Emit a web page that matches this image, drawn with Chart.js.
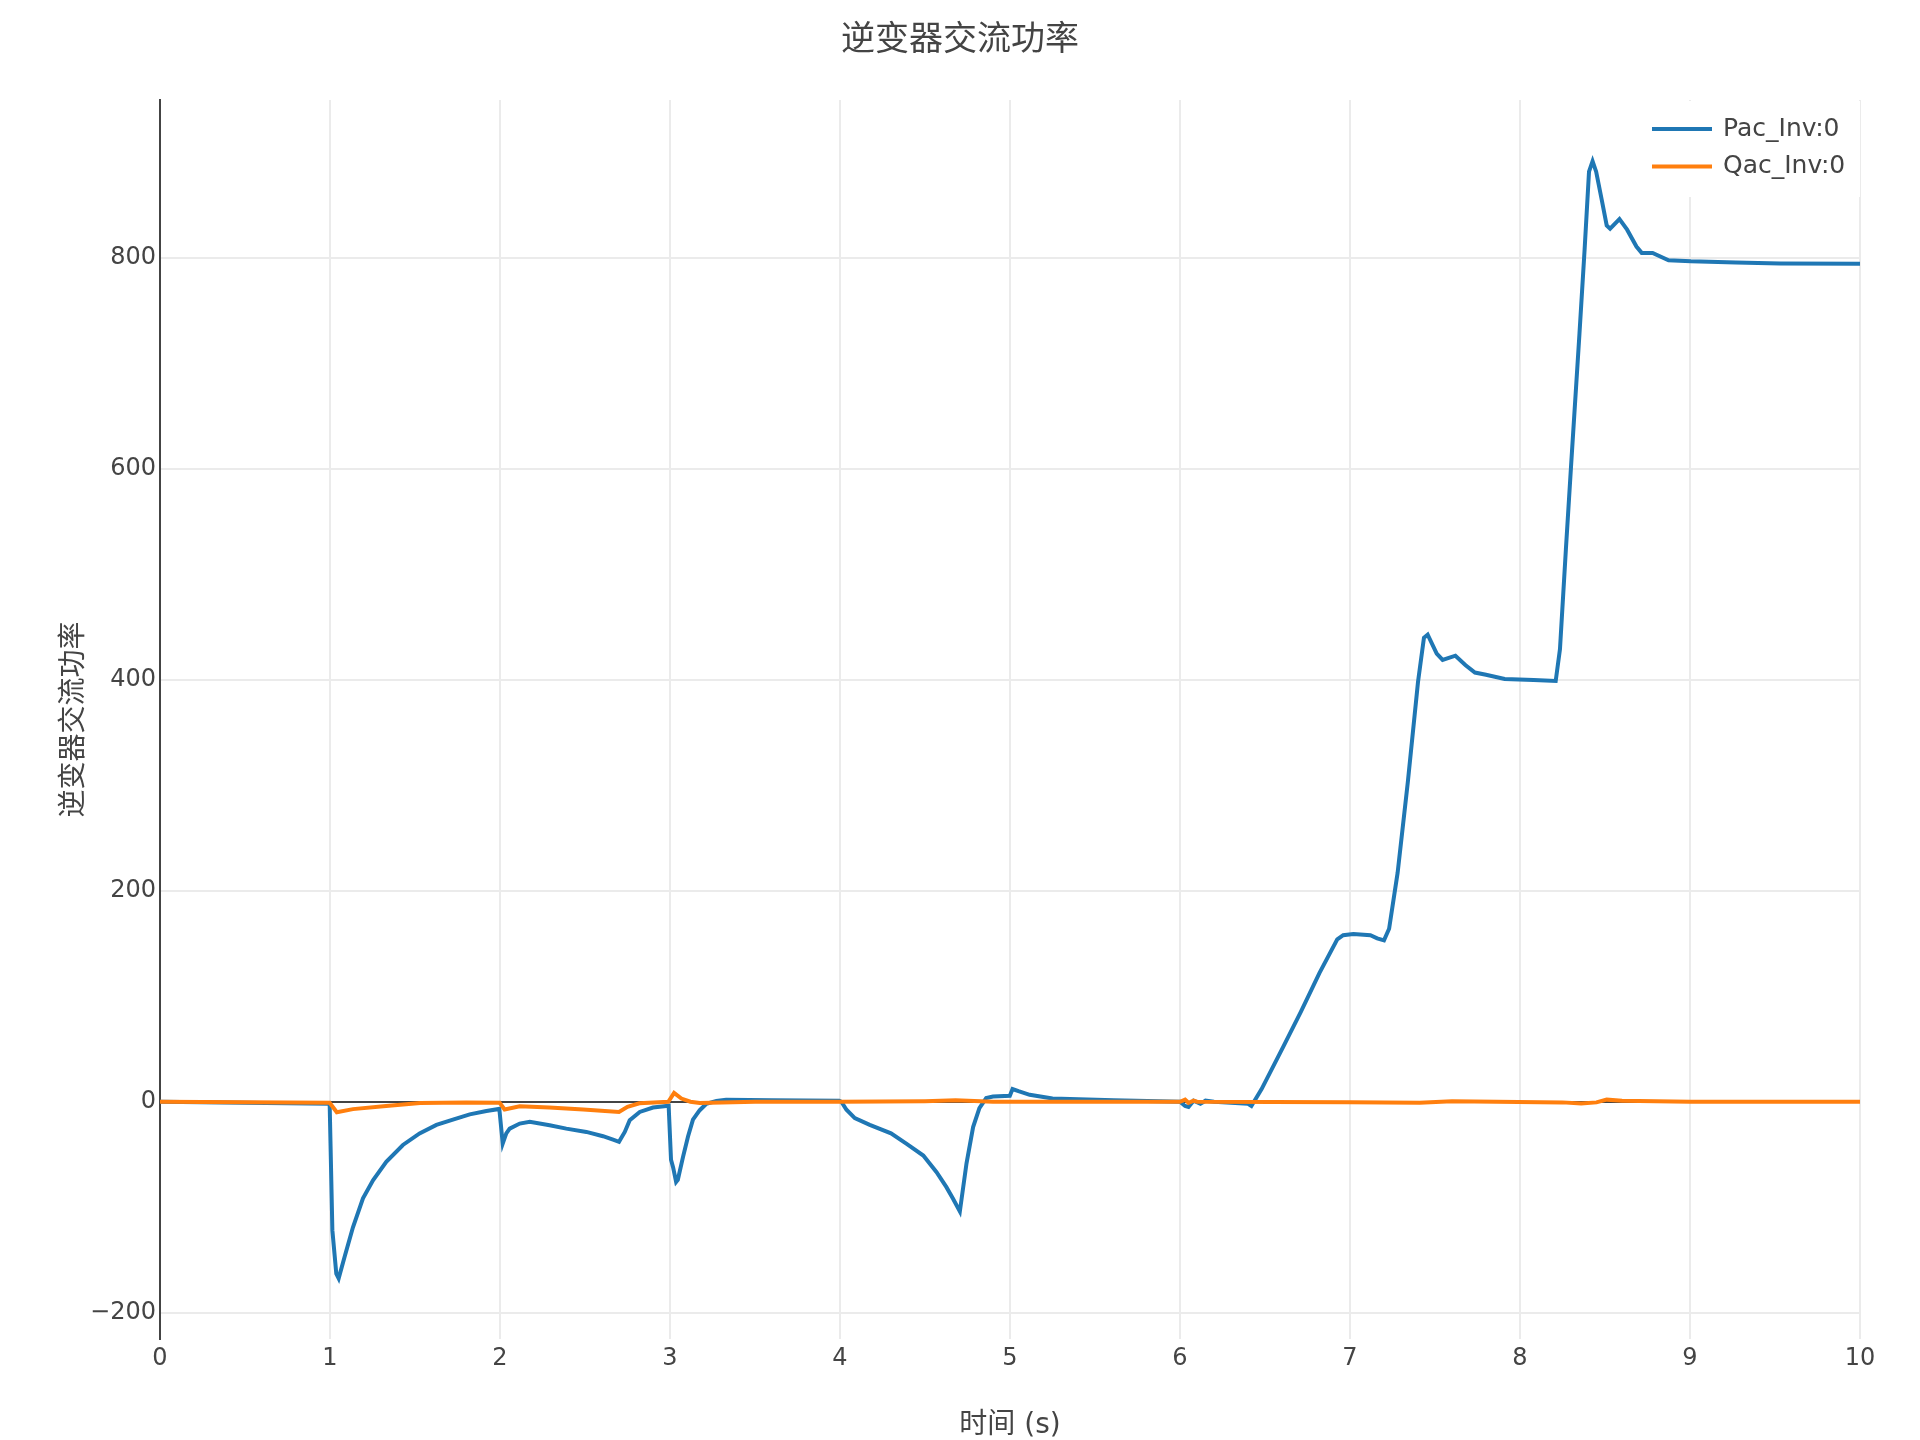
<!DOCTYPE html>
<html>
<head>
<meta charset="utf-8">
<script src="https://cdn.jsdelivr.net/npm/chart.js@4"></script>
<style>
  body { margin: 0; background: #fff; }
  #chartContainer { width: 1920px; height: 1440px; }
</style>
</head>
<body>
<div id="chartContainer"><canvas id="myChart" width="1920" height="1440"></canvas></div>
<script>
const fontFamily = '"DejaVu Sans", "Noto Sans CJK SC", sans-serif';
const textColor = "#444";

// Pac_Inv:0 (time in s, power)
const tPac = [0, 0.5, 0.998, 1.014, 1.037, 1.051, 1.086, 1.135, 1.194, 1.253, 1.331, 1.429, 1.527, 1.626, 1.723, 1.822, 1.92, 1.996,
  2.016, 2.037, 2.057, 2.116, 2.175, 2.292, 2.39, 2.508, 2.606, 2.665, 2.7, 2.734, 2.763, 2.822, 2.9, 2.992,
  3.006, 3.018, 3.036, 3.046, 3.077, 3.106, 3.135, 3.175, 3.214, 3.273, 3.33, 3.6, 3.995,
  4.008, 4.038, 4.087, 4.175, 4.3, 4.39, 4.49, 4.567, 4.626, 4.665, 4.705, 4.744, 4.783, 4.82, 4.86, 4.9, 4.999,
  5.015, 5.05, 5.116, 5.25, 5.61, 6.0, 6.03, 6.05, 6.08, 6.12, 6.15, 6.2, 6.4, 6.42,
  6.48, 6.61, 6.71, 6.82, 6.925, 6.96, 7.02, 7.12, 7.16, 7.2, 7.23, 7.28, 7.34, 7.4, 7.435, 7.457,
  7.51, 7.545, 7.62, 7.68, 7.735, 7.8, 7.91, 8.08, 8.21, 8.235, 8.27, 8.3, 8.35, 8.38, 8.406, 8.427,
  8.448, 8.48, 8.51, 8.53, 8.585, 8.63, 8.685, 8.716, 8.78, 8.874, 9.005, 9.27, 9.53, 10];
const pac = [0, -1, -2, -122, -163, -167.5, -147, -119, -91.6, -74.5, -57, -41, -30, -22, -17, -12, -8.7, -6.8,
  -39.7, -30, -25.5, -20.7, -19, -22.3, -25.5, -28.6, -32.7, -36, -38, -28.6, -17.5, -9.7, -5.5, -3.8,
  -55, -62, -76, -74, -52, -33, -17, -8, -2, 0.8, 2, 1.5, 1,
  0, -7.6, -15.6, -22, -30, -39.7, -51, -66.6, -81, -92, -104, -58.6, -24, -6, 3.5, 5, 5.7,
  12, 10, 6.6, 3, 1.5, 0, -4, -5, 1, -2, 1, 0, -2, -4,
  12, 53, 85, 122, 154, 158, 159, 158, 155, 153, 164, 217, 303, 398, 440, 443,
  425, 419, 423, 414, 407, 405, 401, 400, 399, 429, 524, 602, 729, 808, 882, 892,
  882, 856, 831, 828, 837, 827, 811, 805, 805, 798, 797, 796, 795, 794.6];

// Qac_Inv:0
const tQac = [0, 0.998, 1.04, 1.135, 1.33, 1.53, 1.8, 1.998, 2.027, 2.116, 2.29, 2.49, 2.7, 2.75, 2.82, 2.99,
  3.024, 3.067, 3.12, 3.175, 3.5, 4.0, 4.5, 4.68, 4.9, 6.0, 6.03, 6.05, 6.08, 6.1, 7.0, 7.41, 7.6,
  8.25, 8.36, 8.45, 8.51, 8.6, 9.0, 10];
const qac = [0, -1, -10, -7, -4, -1.3, -0.6, -1, -7.4, -4.2, -5.5, -7.4, -9.7, -4.8, -1.5, 0,
  8.4, 3, 0, -1.2, 0, 0, 0.5, 1.3, 0, 0, 2, -1, 1, 0, -0.5, -1, 0.5,
  -0.6, -1.6, -0.6, 2, 1, 0, 0];

const xTicks = [0, 1, 2, 3, 4, 5, 6, 7, 8, 9, 10];
const yTicks = [-200, 0, 200, 400, 600, 800];

function toPoints(xs, ys) {
  return xs.map((x, i) => ({ x: x, y: ys[i] }));
}

const legendPlugin = {
  id: "plotlyLegend",
  afterDraw(chart) {
    const ctx = chart.ctx;
    ctx.save();
    ctx.fillStyle = "#fff";
    ctx.fillRect(1640, 101, 220, 96);
    chart.data.datasets.forEach((ds, i) => {
      const y = 129 + i * 37.5;
      ctx.strokeStyle = ds.borderColor;
      ctx.lineWidth = 4;
      ctx.beginPath();
      ctx.moveTo(1652, y);
      ctx.lineTo(1712, y);
      ctx.stroke();
      ctx.fillStyle = textColor;
      ctx.font = "25px " + fontFamily;
      ctx.textBaseline = "middle";
      ctx.textAlign = "left";
      ctx.fillText(ds.label, 1723, y);
    });
    ctx.restore();
  },
};

const chartCanvas = document.querySelector("#myChart");
new Chart(chartCanvas, {
  type: "line",
  data: {
    datasets: [
      {
        label: "Pac_Inv:0",
        data: toPoints(tPac, pac),
        borderColor: "#1f77b4",
        borderWidth: 4,
        pointRadius: 0,
        tension: 0,
        order: 1,
      },
      {
        label: "Qac_Inv:0",
        data: toPoints(tQac, qac),
        borderColor: "#ff7f0e",
        borderWidth: 4,
        pointRadius: 0,
        tension: 0,
        order: 0,
      },
    ],
  },
  options: {
    responsive: false,
    animation: false,
    devicePixelRatio: 1,
    layout: { padding: 0 },
    plugins: {
      legend: { display: false },
      tooltip: { enabled: false },
      title: {
        display: true,
        text: "逆变器交流功率",
        color: textColor,
        font: { family: fontFamily, size: 34, weight: "normal" },
        padding: { top: 21, bottom: 38.2 },
      },
    },
    scales: {
      x: {
        type: "linear",
        min: 0,
        max: 10,
        afterBuildTicks: (scale) => {
          scale.ticks = xTicks.map((v) => ({ value: v }));
        },
        afterFit: (scale) => {
          scale.height = 101;
        },
        ticks: {
          color: textColor,
          font: { family: fontFamily, size: 24 },
          padding: 5,
          maxRotation: 0,
        },
        grid: { color: "#ebebeb", lineWidth: 2, drawTicks: false },
        border: { display: false },
        title: {
          display: true,
          text: "时间 (s)",
          color: textColor,
          font: { family: fontFamily, size: 28 },
          padding: { top: 0, bottom: -3 },
        },
      },
      y: {
        type: "linear",
        min: -225,
        max: 950,
        afterBuildTicks: (scale) => {
          scale.ticks = yTicks.map((v) => ({ value: v }));
        },
        afterFit: (scale) => {
          scale.width = 160;
        },
        ticks: {
          color: textColor,
          font: { family: fontFamily, size: 24 },
          padding: 4,
          callback: (v) => (v < 0 ? "\u2212" + Math.abs(v) : String(v)),
        },
        grid: {
          color: (ctx) => (ctx.tick && ctx.tick.value === 0 ? "#444" : "#ebebeb"),
          lineWidth: 2,
          drawTicks: false,
        },
        border: { display: true, color: "#444", width: 2 },
        title: {
          display: true,
          text: "逆变器交流功率",
          color: textColor,
          font: { family: fontFamily, size: 28 },
          padding: { top: 58, bottom: 0 },
        },
      },
      yRight: {
        type: "linear",
        position: "right",
        min: 0,
        max: 1,
        afterFit: (scale) => {
          scale.width = 60;
        },
        ticks: { display: false },
        grid: { display: false },
        border: { display: false },
      },
    },
  },
  plugins: [legendPlugin],
});
</script>
</body>
</html>
